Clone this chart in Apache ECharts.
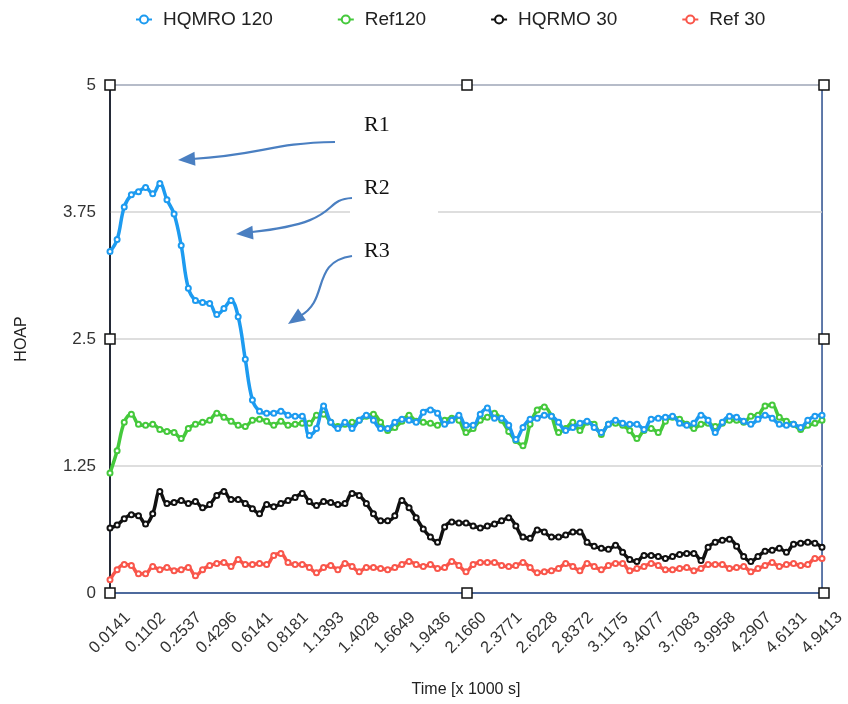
<!DOCTYPE html>
<html>
<head>
<meta charset="utf-8">
<script src="https://cdn.jsdelivr.net/npm/echarts@6/dist/echarts.min.js"></script>
<style>html,body{margin:0;padding:0;background:#fff}#c{width:848px;height:704px}</style>
</head>
<body>
<div id="c"></div>
<script>
const tickLabels = ['0.0141','0.1102','0.2537','0.4296','0.6141','0.8181','1.1393','1.4028','1.6649','1.9436','2.1660','2.3771','2.6228','2.8372','3.1175','3.4077','3.7083','3.9958','4.2907','4.6131','4.9413'];
const seriesNames = ['HQMRO 120','Ref120','HQRMO 30','Ref 30'];
const yTicks = [0, 1.25, 2.5, 3.75, 5];

const hqmro120 = [3.36,3.48,3.80,3.92,3.95,3.99,3.93,4.03,3.87,3.73,
 3.42,3.00,2.88,2.86,2.85,2.74,2.80,2.88,2.72,2.30,
 1.90,1.79,1.77,1.77,1.79,1.75,1.74,1.74,1.55,1.62,
 1.84,1.68,1.62,1.68,1.62,1.70,1.75,1.70,1.62,1.62,
 1.68,1.71,1.70,1.68,1.78,1.80,1.77,1.66,1.70,1.75,
 1.65,1.65,1.76,1.82,1.72,1.72,1.65,1.51,1.63,1.71,
 1.72,1.75,1.74,1.68,1.60,1.63,1.67,1.69,1.63,1.58,
 1.66,1.70,1.67,1.66,1.66,1.61,1.71,1.72,1.73,1.74,
 1.67,1.65,1.67,1.75,1.70,1.58,1.68,1.74,1.73,1.69,
 1.66,1.71,1.75,1.72,1.66,1.65,1.66,1.63,1.70,1.74,1.75];
const ref120 = [1.18,1.40,1.68,1.76,1.66,1.65,1.66,1.61,1.59,1.58,
 1.52,1.62,1.66,1.68,1.70,1.77,1.73,1.69,1.65,1.64,
 1.70,1.71,1.69,1.65,1.69,1.65,1.66,1.67,1.67,1.75,
 1.76,1.68,1.64,1.66,1.68,1.70,1.74,1.76,1.68,1.60,
 1.63,1.69,1.75,1.69,1.68,1.67,1.65,1.70,1.72,1.70,
 1.58,1.62,1.70,1.73,1.77,1.70,1.59,1.50,1.45,1.66,
 1.80,1.83,1.74,1.58,1.62,1.68,1.60,1.68,1.66,1.56,
 1.66,1.67,1.65,1.60,1.52,1.60,1.62,1.58,1.69,1.73,
 1.71,1.66,1.62,1.66,1.67,1.64,1.67,1.70,1.70,1.68,
 1.74,1.75,1.84,1.85,1.73,1.69,1.66,1.61,1.65,1.67,1.70];
const hqrmo30 = [0.64,0.67,0.73,0.77,0.76,0.68,0.78,1.00,0.88,0.89,
 0.91,0.88,0.90,0.84,0.87,0.96,1.00,0.92,0.92,0.88,
 0.83,0.78,0.87,0.85,0.88,0.91,0.94,0.98,0.90,0.86,
 0.90,0.89,0.87,0.88,0.98,0.96,0.88,0.78,0.71,0.71,
 0.76,0.91,0.84,0.74,0.63,0.55,0.50,0.65,0.70,0.69,
 0.69,0.66,0.64,0.66,0.68,0.71,0.74,0.66,0.55,0.54,
 0.62,0.60,0.55,0.55,0.57,0.60,0.60,0.50,0.46,0.44,
 0.43,0.47,0.40,0.33,0.31,0.37,0.37,0.36,0.34,0.36,
 0.38,0.39,0.39,0.32,0.45,0.50,0.52,0.53,0.46,0.36,
 0.31,0.36,0.41,0.42,0.44,0.40,0.48,0.49,0.50,0.49,0.45];
const ref30 = [0.13,0.23,0.28,0.27,0.19,0.19,0.26,0.23,0.25,0.22,
 0.23,0.25,0.17,0.23,0.27,0.29,0.30,0.26,0.33,0.28,
 0.28,0.29,0.28,0.37,0.39,0.30,0.28,0.28,0.25,0.20,
 0.25,0.27,0.23,0.29,0.26,0.21,0.25,0.25,0.24,0.23,
 0.25,0.28,0.31,0.28,0.26,0.28,0.24,0.25,0.31,0.27,
 0.21,0.28,0.30,0.30,0.30,0.27,0.26,0.27,0.30,0.25,
 0.20,0.21,0.22,0.24,0.29,0.26,0.22,0.29,0.26,0.23,
 0.27,0.29,0.29,0.22,0.24,0.26,0.29,0.27,0.23,0.23,
 0.24,0.25,0.22,0.24,0.28,0.28,0.28,0.24,0.25,0.26,
 0.21,0.24,0.27,0.30,0.26,0.28,0.29,0.27,0.28,0.34,0.34];

const stepsPerLabel = 5;
const categories = hqmro120.map((_, i) => String(i));
const colors = ['#1d9bf0', '#45c93c', '#111111', '#f9564b'];
const seriesData = [hqmro120, ref120, hqrmo30, ref30];

const G = {left: 110, top: 85, right: 24, bottom: 111};
const W = 848, H = 704;
const gx0 = G.left, gx1 = W - G.right, gy0 = G.top, gy1 = H - G.bottom;
const gxm = (gx0 + gx1) / 2, gym = (gy0 + gy1) / 2;

const chart = echarts.init(document.getElementById('c'), null, {renderer: 'canvas'});
const arrowColor = '#4a7fc1';
function arrowHead(tipX, tipY, angle) {
  const L = 17, Wd = 7;
  const bx = tipX - L * Math.cos(angle), by = tipY - L * Math.sin(angle);
  const px = -Math.sin(angle) * Wd, py = Math.cos(angle) * Wd;
  return {type: 'polygon', shape: {points: [[tipX, tipY], [bx + px, by + py], [bx - px, by - py]]}, style: {fill: arrowColor}, z: 20};
}
const handles = [[gx0,gy0],[gxm,gy0],[gx1,gy0],[gx0,gym],[gx1,gym],[gx0,gy1],[gxm,gy1],[gx1,gy1]].map(p => ({
  type: 'rect', shape: {x: p[0]-5, y: p[1]-5, width: 10, height: 10},
  style: {fill: '#fff', stroke: '#111', lineWidth: 1.5}, z: 30
}));
const font = 'Liberation Sans, Arial, sans-serif';

chart.setOption({
  animation: false,
  color: colors,
  legend: {
    top: 5, left: 130,
    itemWidth: 16, itemHeight: 10, itemGap: 64,
    textStyle: {fontFamily: font, fontSize: 19, color: '#222', padding: [0, 0, 0, 6]},
    data: seriesNames
  },
  grid: {left: G.left, right: G.right, top: G.top, bottom: G.bottom, show: true, borderColor: '#2d4f8e', borderWidth: 1.5, containLabel: false},
  xAxis: {
    type: 'category', data: categories, boundaryGap: false,
    name: 'Time [x 1000 s]', nameLocation: 'middle', nameGap: 89,
    nameTextStyle: {fontFamily: font, fontSize: 16, color: '#222'},
    axisLine: {show: true, lineStyle: {color: '#2d4f8e', width: 1.5}},
    axisTick: {show: false},
    axisLabel: {
      interval: stepsPerLabel - 1, rotate: 45, margin: 40, align: 'center', verticalAlign: 'middle',
      fontFamily: font, fontSize: 16.5, color: '#333',
      formatter: (v, idx) => (idx % stepsPerLabel === 0 ? tickLabels[idx / stepsPerLabel] : '')
    },
    splitLine: {show: false}
  },
  yAxis: {
    type: 'value', min: yTicks[0], max: yTicks[yTicks.length-1], interval: 1.25,
    name: 'HOAP', nameLocation: 'middle', nameGap: 80,
    nameTextStyle: {fontFamily: font, fontSize: 16, color: '#222'},
    axisLine: {show: true, lineStyle: {color: '#111', width: 1.5}},
    axisTick: {show: false},
    axisLabel: {margin: 14, fontFamily: font, fontSize: 17, color: '#333'},
    splitLine: {show: true, lineStyle: {color: '#d3d3d3', width: 1.5}}
  },
  series: seriesNames.map((n, k) => ({
    name: n, type: 'line', data: seriesData[k],
    smooth: 0.4, symbol: 'emptyCircle', symbolSize: 5, showSymbol: true, showAllSymbol: true,
    lineStyle: {width: 3.5, color: colors[k]},
    itemStyle: {color: colors[k], borderWidth: 1.5},
    z: 3 + (k === 0 ? 1 : 0)
  })),
  graphic: [
    {type: 'rect', shape: {x: 350, y: 203, width: 88, height: 16}, style: {fill: '#fff'}, z: 5},
    {type: 'text', x: 364, y: 114, style: {text: 'R1', font: '22px "Liberation Serif", "Times New Roman", serif', fill: '#111'}, z: 20},
    {type: 'text', x: 364, y: 177, style: {text: 'R2', font: '22px "Liberation Serif", "Times New Roman", serif', fill: '#111'}, z: 20},
    {type: 'text', x: 364, y: 240, style: {text: 'R3', font: '22px "Liberation Serif", "Times New Roman", serif', fill: '#111'}, z: 20},
    {type: 'bezierCurve', shape: {x1: 335, y1: 142, x2: 192, y2: 159, cpx1: 270, cpy1: 143, cpx2: 262, cpy2: 155}, style: {stroke: arrowColor, lineWidth: 2.2, fill: null}, z: 20},
    arrowHead(178, 160, Math.PI - 0.07),
    {type: 'bezierCurve', shape: {x1: 352, y1: 198, x2: 252, y2: 232, cpx1: 320, cpy1: 200, cpx2: 345, cpy2: 222}, style: {stroke: arrowColor, lineWidth: 2.2, fill: null}, z: 20},
    arrowHead(236, 234, Math.PI - 0.08),
    {type: 'bezierCurve', shape: {x1: 352, y1: 256, x2: 300, y2: 316, cpx1: 310, cpy1: 262, cpx2: 330, cpy2: 300}, style: {stroke: arrowColor, lineWidth: 2.2, fill: null}, z: 20},
    arrowHead(288, 324, Math.PI - 0.6)
  ].concat(handles)
});
</script>
</body>
</html>
